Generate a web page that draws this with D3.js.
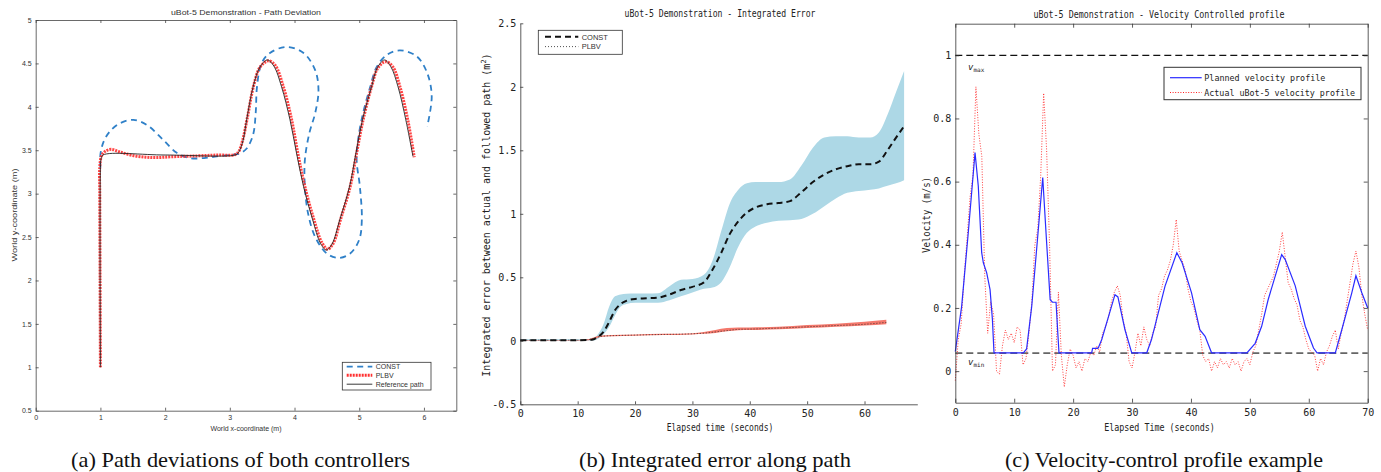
<!DOCTYPE html>
<html><head><meta charset="utf-8">
<script src="https://cdn.jsdelivr.net/npm/d3@7"></script>
<style>body{margin:0;background:#fff}svg{display:block}</style>
</head><body><svg id="chart" width="1381" height="472"></svg>
<script>
// ---------- Panel (a): path deviation ----------
const refX = [1.0,1.0,1.01,1.04,2.0,3.08,3.13,3.2,3.26,3.36,3.46,3.58,3.68,3.8,3.93,4.03,4.14,4.28,4.4,4.49,4.58,4.70,4.85,4.95,5.05,5.19,5.28,5.39,5.49,5.60,5.72,5.83];
const refY = [1.0,3.3,3.4,3.445,3.445,3.445,3.47,3.6,3.85,4.23,4.45,4.54,4.47,4.23,3.85,3.47,3.08,2.70,2.43,2.35,2.42,2.70,3.08,3.47,3.85,4.23,4.45,4.54,4.46,4.23,3.85,3.43];
const plbvX = [1.0,0.995,0.99,0.99,1.02,1.08,1.17,1.3,1.5,1.7,1.87,2.1,2.5,2.8,3.08,3.14,3.2,3.27,3.37,3.47,3.6,3.7,3.82,3.95,4.05,4.16,4.3,4.42,4.51,4.6,4.71,4.86,4.96,5.06,5.19,5.29,5.41,5.52,5.63,5.75,5.85];
const plbvY = [1.0,2.0,3.0,3.3,3.44,3.49,3.51,3.48,3.44,3.42,3.415,3.425,3.435,3.445,3.45,3.49,3.62,3.87,4.25,4.46,4.53,4.48,4.25,3.87,3.47,3.08,2.70,2.44,2.36,2.43,2.70,3.08,3.47,3.85,4.23,4.45,4.52,4.46,4.23,3.85,3.42];
const constX = [1.0,1.0,1.05,1.15,1.3,1.51,1.72,1.97,2.18,2.38,2.6,2.8,3.05,3.15,3.26,3.36,3.40,3.42,3.49,3.62,3.88,4.14,4.32,4.37,4.32,4.23,4.16,4.16,4.21,4.32,4.50,4.68,4.86,5.0,5.04,5.01,4.96,4.99,5.06,5.17,5.27,5.43,5.63,5.89,6.05,6.12,6.05];
const constY = [3.3,3.45,3.6,3.72,3.81,3.85,3.79,3.62,3.47,3.41,3.41,3.43,3.45,3.46,3.52,3.68,3.93,4.23,4.50,4.62,4.69,4.62,4.42,4.19,3.93,3.70,3.39,3.08,2.77,2.50,2.31,2.26,2.31,2.47,2.70,3.08,3.39,3.66,3.93,4.23,4.46,4.60,4.65,4.58,4.39,4.12,3.77];
const aXTicks = [0,1,2,3,4,5,6];
const aYTicks = [0.5,1,1.5,2,2.5,3,3.5,4,4.5,5];
const aLegend = ["CONST","PLBV","Reference path"];

// ---------- Panel (b): integrated error ----------
const bT      = [0,5,10,12.5,13.5,14.5,15.5,16.5,17.5,18.5,20,22,24,26,28,30,32,33.5,35,36.5,38,39.5,41,43,45,47,49,51,53,55,57,59,61,62.5,64,65.5,66.9];
const bConst  = [0.005,0.005,0.005,0.008,0.03,0.07,0.15,0.24,0.29,0.315,0.33,0.335,0.34,0.365,0.40,0.425,0.46,0.56,0.69,0.84,0.94,1.01,1.05,1.075,1.085,1.10,1.17,1.25,1.31,1.35,1.375,1.39,1.39,1.41,1.50,1.60,1.69];
const bConstHi= [0.012,0.012,0.012,0.015,0.05,0.13,0.27,0.35,0.365,0.37,0.372,0.373,0.375,0.43,0.48,0.487,0.52,0.63,0.86,1.08,1.19,1.24,1.25,1.25,1.25,1.27,1.38,1.52,1.60,1.61,1.61,1.60,1.60,1.64,1.78,1.96,2.125];
const bConstLo= [0,0,0,0.002,0.015,0.05,0.11,0.20,0.27,0.29,0.30,0.30,0.30,0.32,0.35,0.38,0.41,0.42,0.46,0.58,0.74,0.85,0.90,0.93,0.945,0.95,0.96,1.00,1.06,1.12,1.165,1.18,1.19,1.20,1.22,1.24,1.265];
const pT      = [0,5,10,12,13,14,16,20,25,30,32,34,36,38,40,45,50,55,60,63.8];
const pPlbv   = [0.005,0.005,0.005,0.01,0.02,0.035,0.04,0.045,0.05,0.055,0.06,0.07,0.08,0.09,0.092,0.10,0.11,0.12,0.13,0.145];
const pPlbvLo = [0.003,0.003,0.003,0.005,0.015,0.03,0.035,0.04,0.045,0.05,0.055,0.062,0.075,0.083,0.085,0.09,0.10,0.11,0.12,0.13];
const pPlbvHi = [0.007,0.007,0.007,0.015,0.03,0.042,0.045,0.05,0.055,0.06,0.07,0.085,0.10,0.105,0.105,0.11,0.125,0.135,0.15,0.165];
const bXTicks = [0,10,20,30,40,50,60];
const bYTicks = [-0.5,0,0.5,1,1.5,2,2.5];
const bLegend = ["CONST","PLBV"];

// ---------- Panel (c): velocity profile ----------
const planT = [0,1.08,2.2,3.35,3.9,4.48,4.76,5.33,5.9,6.3,6.57,11.55,12.1,12.97,13.8,14.84,15.4,16.1,16.5,17.1,17.4,17.6,23.15,23.3,24.2,24.3,24.86,27.1,27.6,28.8,29.95,32.5,33.3,35.6,37.6,38.5,40.1,41.5,42.4,43.5,49.5,50.9,52.0,53.1,55.4,56.0,57.7,59.4,60.8,61.4,64.5,65.6,67.3,68.0,69.0,70];
const planV = [0.062,0.205,0.438,0.692,0.586,0.375,0.343,0.311,0.258,0.163,0.058,0.058,0.07,0.205,0.385,0.613,0.438,0.226,0.218,0.218,0.12,0.058,0.058,0.072,0.072,0.075,0.10,0.242,0.235,0.131,0.058,0.058,0.10,0.269,0.375,0.343,0.248,0.131,0.11,0.058,0.058,0.088,0.142,0.226,0.369,0.353,0.27,0.142,0.073,0.058,0.058,0.131,0.248,0.302,0.248,0.2];
const actStep = 0.5;
const actV = [-0.03,0.10,0.15,0.30,0.42,0.55,0.62,0.90,0.75,0.68,0.30,0.12,0.22,0.18,0.0,-0.01,0.08,0.13,0.10,0.12,
  0.09,0.14,0.13,0.02,0.04,0.12,0.22,0.40,0.45,0.62,0.88,0.70,0.40,0.0,0.02,0.25,0.05,-0.05,0.02,0.07,
  0.05,0.01,0.03,0.0,0.04,0.03,0.06,0.05,0.08,0.06,0.12,0.14,0.17,0.22,0.25,0.27,0.24,0.16,0.12,0.03,
  0.01,0.06,0.12,0.08,0.14,0.10,0.08,0.12,0.14,0.24,0.26,0.30,0.32,0.35,0.40,0.48,0.38,0.35,0.32,0.26,
  0.22,0.20,0.16,0.13,0.05,0.03,0.04,0.0,0.03,0.01,0.04,0.02,0.03,0.01,0.04,0.02,0.03,0.0,0.03,0.04,
  0.02,0.06,0.08,0.13,0.18,0.24,0.26,0.28,0.30,0.34,0.38,0.44,0.36,0.28,0.26,0.23,0.21,0.16,0.14,0.10,
  0.07,0.06,0.05,0.0,0.04,0.02,0.06,0.08,0.11,0.13,0.07,0.12,0.16,0.22,0.28,0.34,0.38,0.33,0.24,0.18,0.13];
const vMax = 1.0, vMin = 0.057;
const cXTicks = [0,10,20,30,40,50,60,70];
const cYTicks = [0,0.2,0.4,0.6,0.8,1];
const cLegend = ["Planned velocity profile","Actual uBot-5 velocity profile"];

const captions = ["(a) Path deviations of both controllers","(b) Integrated error along path","(c) Velocity-control profile example"];

// ================= drawing =================
const svg = d3.select("#chart");
svg.append("rect").attr("width",1381).attr("height",472).attr("fill","#fff");
const SANS = "'Liberation Sans', Arial, sans-serif";
const MONO = "'DejaVu Sans Mono', 'Liberation Mono', monospace";
const fmt = d => String(d);

function drawAxes(x, y, o) {
  const g = svg.append("g");
  const [x0,x1] = x.range(), [y0,y1] = y.range();
  const style = sel => {
    sel.select(".domain").attr("stroke", o.color).attr("stroke-width", 0.8);
    sel.selectAll(".tick line").attr("stroke", o.color).attr("stroke-width", 0.8);
    sel.selectAll("text").attr("font-family", o.font).attr("font-size", o.fs).attr("fill", o.tcolor);
  };
  g.append("g").attr("transform",`translate(0,${y0})`)
    .call(d3.axisBottom(x).tickValues(o.xt).tickFormat(fmt).tickSizeInner(-o.ts).tickSizeOuter(0).tickPadding(o.padX)).call(style);
  g.append("g").attr("transform",`translate(${x0},0)`)
    .call(d3.axisLeft(y).tickValues(o.yt).tickFormat(fmt).tickSizeInner(-o.ts).tickSizeOuter(0).tickPadding(o.padY)).call(style);
  if (o.box) {
    g.append("g").attr("transform",`translate(0,${y1})`)
      .call(d3.axisTop(x).tickValues(o.xt).tickFormat("").tickSizeInner(-o.ts).tickSizeOuter(0)).call(style);
    g.append("g").attr("transform",`translate(${x1},0)`)
      .call(d3.axisRight(y).tickValues(o.yt).tickFormat("").tickSizeInner(-o.ts).tickSizeOuter(0)).call(style);
  }
  return g;
}
function label(txt, x, y, o) {
  const t = svg.append("text").attr("x",x).attr("y",y).attr("text-anchor",o.anchor||"middle")
    .attr("font-family",o.font).attr("font-size",o.fs).attr("fill",o.fill||"#222").text(txt);
  if (o.rot) t.attr("transform",`rotate(-90,${x},${y})`);
  if (o.len) t.attr("textLength",o.len).attr("lengthAdjust","spacingAndGlyphs");
  return t;
}

// ----- Panel (a) -----
const xA = d3.scaleLinear([0,6.5],[35.7,456.3]);
const yA = d3.scaleLinear([0.5,5],[410.7,20]);
svg.append("clipPath").attr("id","clipA").append("rect")
  .attr("x",35.7).attr("y",20).attr("width",420.6).attr("height",390.7);
const gA = svg.append("g").attr("clip-path","url(#clipA)");
const lineXY = (X,Y,x,y) => d3.line().x(i=>x(X[i])).y(i=>y(Y[i])).curve(d3.curveCatmullRom.alpha(0.5))(d3.range(X.length));
gA.append("path").attr("d",lineXY(constX,constY,xA,yA)).attr("fill","none")
  .attr("stroke","#2f80c8").attr("stroke-width",1.8).attr("stroke-dasharray","6,4.5");
gA.append("path").attr("d",lineXY(plbvX,plbvY,xA,yA)).attr("fill","none")
  .attr("stroke","#ff3030").attr("stroke-width",3).attr("stroke-dasharray","2,1").attr("opacity",0.9);
gA.append("path").attr("d",lineXY(refX,refY,xA,yA)).attr("fill","none")
  .attr("stroke","#222").attr("stroke-width",0.9);
drawAxes(xA,yA,{xt:aXTicks,yt:aYTicks,ts:3,padX:4,padY:4,box:true,color:"#444",tcolor:"#333",font:SANS,fs:7});
label("uBot-5 Demonstration - Path Deviation",246,15,{font:SANS,fs:8,fill:"#333",len:150});
label("World x-coordinate (m)",246,431,{font:SANS,fs:7,fill:"#333"});
label("World y-coordinate (m)",16.5,215,{font:SANS,fs:7.5,fill:"#333",rot:true,len:93});
// legend a
svg.append("rect").attr("x",342.3).attr("y",362.3).attr("width",88.7).attr("height",27.7)
  .attr("fill","#fff").attr("stroke","#333").attr("stroke-width",0.8);
const aLegY = [366.7,375.3,384.2];
const aLegStyle = [{c:"#2f80c8",w:1.8,d:"6,4.5"},{c:"#ff3030",w:3,d:"2,1"},{c:"#222",w:0.9,d:null}];
aLegend.forEach((t,i)=>{
  const s = aLegStyle[i];
  const l = svg.append("line").attr("x1",346.7).attr("x2",372.3).attr("y1",aLegY[i]).attr("y2",aLegY[i])
    .attr("stroke",s.c).attr("stroke-width",s.w);
  if (s.d) l.attr("stroke-dasharray",s.d);
  label(t,375.7,aLegY[i]+2.4,{font:SANS,fs:7,fill:"#333",anchor:"start"});
});

// ----- Panel (b) -----
const xB = d3.scaleLinear([0,69.2],[520.3,917.3]);
const yB = d3.scaleLinear([-0.5,2.5],[404.3,23.3]);
const areaB = (T,L,H) => d3.area().x(i=>xB(T[i])).y0(i=>yB(L[i])).y1(i=>yB(H[i])).curve(d3.curveMonotoneX)(d3.range(T.length));
const lineB = (T,V) => d3.line().x(i=>xB(T[i])).y(i=>yB(V[i])).curve(d3.curveMonotoneX)(d3.range(T.length));
svg.append("path").attr("d",areaB(bT,bConstLo,bConstHi)).attr("fill","#add8e6");
svg.append("path").attr("d",areaB(pT,pPlbvLo,pPlbvHi)).attr("fill","#f4786c");
svg.append("path").attr("d",lineB(bT,bConst)).attr("fill","none").attr("stroke","#111")
  .attr("stroke-width",2).attr("stroke-dasharray","6,4");
svg.append("path").attr("d",lineB(pT,pPlbv)).attr("fill","none").attr("stroke","#222")
  .attr("stroke-width",0.8).attr("stroke-dasharray","1,2");
drawAxes(xB,yB,{xt:bXTicks,yt:bYTicks,ts:3,padX:6,padY:4,box:false,color:"#333",tcolor:"#222",font:MONO,fs:10});
label("uBot-5 Demonstration - Integrated Error",720,17,{font:MONO,fs:10,len:191});
label("Elapsed time (seconds)",720,431,{font:MONO,fs:10,len:106.7});
const yl = label("",490,215,{font:MONO,fs:10,rot:true});
yl.append("tspan").text("Integrated error between actual and followed path (m");
yl.append("tspan").attr("font-size",7).attr("dy",-4).text("2");
yl.append("tspan").attr("dy",4).text(")");
// legend b
svg.append("rect").attr("x",538.3).attr("y",30.3).attr("width",84).attr("height",24)
  .attr("fill","#fff").attr("stroke","#333").attr("stroke-width",0.8);
const bLegY = [36.8,46.6];
const bLegStyle = [{c:"#111",w:2,d:"6,4"},{c:"#222",w:0.8,d:"1,2"}];
bLegend.forEach((t,i)=>{
  const s = bLegStyle[i];
  svg.append("line").attr("x1",545).attr("x2",578.3).attr("y1",bLegY[i]).attr("y2",bLegY[i])
    .attr("stroke",s.c).attr("stroke-width",s.w).attr("stroke-dasharray",s.d);
  label(t,581.7,bLegY[i]+2.8,{font:SANS,fs:7.5,fill:"#333",anchor:"start"});
});

// ----- Panel (c) -----
const xC = d3.scaleLinear([0,70],[955.3,1367.7]);
const yC = d3.scaleLinear([-0.1,1.1],[402.7,23.7]);
[[vMax,"#111",1.2],[vMin,"#666",1.6]].forEach(([v,c,w])=>{
  svg.append("line").attr("x1",xC(0)).attr("x2",xC(70)).attr("y1",yC(v)).attr("y2",yC(v))
    .attr("stroke",c).attr("stroke-width",w).attr("stroke-dasharray","7,4");
});
svg.append("path").attr("d",d3.line().x((d,i)=>xC(i*actStep)).y(d=>yC(d))(actV))
  .attr("fill","none").attr("stroke","#ff2020").attr("stroke-width",1).attr("stroke-dasharray","1,1.6").attr("opacity",0.85);
svg.append("path").attr("d",d3.line().x(i=>xC(planT[i])).y(i=>yC(planV[i]))(d3.range(planT.length)))
  .attr("fill","none").attr("stroke","#2b2bff").attr("stroke-width",1.2);
drawAxes(xC,yC,{xt:cXTicks,yt:cYTicks,ts:4,padX:6,padY:4,box:true,color:"#333",tcolor:"#222",font:MONO,fs:10});
label("uBot-5 Demonstration - Velocity Controlled profile",1159,17.5,{font:MONO,fs:10,len:251});
label("Elapsed Time (seconds)",1159.5,431,{font:MONO,fs:10,len:110.7});
label("Velocity (m/s)",930,215,{font:MONO,fs:10,rot:true,len:76});
const vm = label("",968,70,{font:MONO,fs:9,anchor:"start"});
vm.append("tspan").attr("font-style","italic").text("v");
vm.append("tspan").attr("font-size",6).attr("dy",2).text("max");
const vn = label("",968,365,{font:MONO,fs:9,anchor:"start"});
vn.append("tspan").attr("font-style","italic").text("v");
vn.append("tspan").attr("font-size",6).attr("dy",2).text("min");
// legend c
svg.append("rect").attr("x",1164).attr("y",67.3).attr("width",197).attr("height",32.4)
  .attr("fill","#fff").attr("stroke","#333").attr("stroke-width",1);
const cLegY = [77.7,92.5];
const cLegStyle = [{c:"#2b2bff",w:1.2,d:null},{c:"#ff2020",w:1,d:"1,1.6"}];
const cLegLen = [121,150.7];
cLegend.forEach((t,i)=>{
  const s = cLegStyle[i];
  const l = svg.append("line").attr("x1",1170).attr("x2",1201.7).attr("y1",cLegY[i]).attr("y2",cLegY[i])
    .attr("stroke",s.c).attr("stroke-width",s.w);
  if (s.d) l.attr("stroke-dasharray",s.d);
  label(t,1204.3,cLegY[i]+3.3,{font:MONO,fs:8.4,anchor:"start",len:cLegLen[i]});
});

// ----- captions -----
const capX = [240.5,715,1164];
const capLen = [339,272,318];
captions.forEach((t,i)=>label(t,capX[i],467,{font:"'Liberation Serif','Times New Roman',serif",fs:21,fill:"#111",len:capLen[i]}));
</script></body></html>
